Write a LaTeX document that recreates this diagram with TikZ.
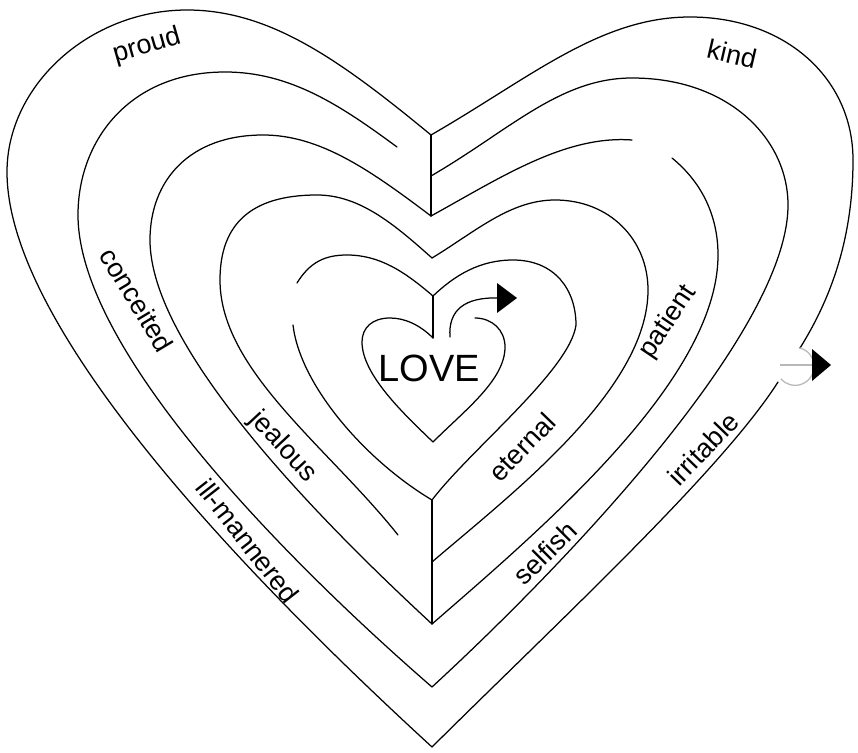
\documentclass[tikz,border=0pt]{standalone}
\usepackage{fontspec}
\setmainfont{Liberation Sans}
\begin{document}
\begin{tikzpicture}[x=1pt,y=-1pt,
  wall/.style={line width=1.25pt, line cap=round, line join=round},
  lbl/.style={font=\fontsize{27}{27}\selectfont, inner sep=0pt},
  tipfill/.style={fill=black},
  ghost/.style={draw=black!28, line width=1.3pt}]
\useasboundingbox (0,0) rectangle (858,752);
% junctions
\coordinate (c1) at (431,135);
\coordinate (c2) at (431,176);
\coordinate (c3) at (431,216);
\coordinate (c4) at (432,258);
\coordinate (c5) at (433,296);
\coordinate (c6) at (433,338);
\coordinate (b6) at (433,442);
\coordinate (b5) at (432,500);
\coordinate (b4) at (432,562);
\coordinate (b3) at (432,624);
\coordinate (b2) at (432,687);
\coordinate (b1) at (432,747);
% ring 1
\draw[wall] (c1) .. controls (340,60) and (270,10) .. (187,10)
  .. controls (90,10) and (7,85) .. (7,172)
  .. controls (7,330) and (250,580) .. (b1);
\coordinate (g1) at (800,348);
\coordinate (g2) at (778,382);
\draw[wall] (c1) .. controls (530,78) and (600,17) .. (690,17)
  .. controls (785,17) and (853,78) .. (853,160)
  .. controls (853,240) and (830,300) .. (g1);
\draw[wall] (g2) .. controls (722,470) and (560,620) .. (b1);
% ring 2
\draw[wall] (397,147) .. controls (340,105) and (290,72) .. (225,72)
  .. controls (130,72) and (78,140) .. (78,215)
  .. controls (78,348) and (280,555) .. (b2);
\draw[wall] (c2) .. controls (510,130) and (560,78) .. (632,78)
  .. controls (730,78) and (788,140) .. (788,205)
  .. controls (788,330) and (570,560) .. (b2);
% ring 3
\draw[wall] (c3) .. controls (370,170) and (320,135) .. (263,135)
  .. controls (190,135) and (150,180) .. (150,240)
  .. controls (150,346) and (312,513) .. (b3);
\draw[wall] (c3) .. controls (500,178) and (565,135) .. (632,140);
\draw[wall] (672,158) .. controls (705,185) and (718,220) .. (718,255)
  .. controls (718,380) and (540,530) .. (b3);
% ring 4
\draw[wall] (c4) .. controls (395,225) and (360,195) .. (317,195)
  .. controls (250,195) and (220,225) .. (220,280)
  .. controls (220,370) and (328,447) .. (398,535);
\draw[wall] (c4) .. controls (475,232) and (510,200) .. (555,200)
  .. controls (610,200) and (648,240) .. (648,290)
  .. controls (648,390) and (510,495) .. (b4);
% ring 5
\draw[wall] (297,283) .. controls (310,262) and (325,255) .. (347,255)
  .. controls (380,255) and (405,272) .. (c5);
\draw[wall] (293,325) .. controls (300,385) and (365,460) .. (b5);
\draw[wall] (c5) .. controls (455,275) and (480,260) .. (513,260)
  .. controls (555,260) and (576,290) .. (576,325)
  .. controls (570,370) and (470,450) .. (b5);
% inner heart
\draw[wall] (c6) .. controls (420,325) and (405,318) .. (390,318)
  .. controls (372,318) and (362,328) .. (362,342)
  .. controls (362,375) and (405,415) .. (b6);
\draw[wall] (b6) .. controls (465,410) and (505,380) .. (505,347)
  .. controls (505,330) and (492,318) .. (475,318);
% vertical spines
\draw[wall] (c1) -- (c3);
\draw[wall] (c5) -- (c6);
\draw[wall] (b5) -- (b3);
% inner arrow
\coordinate (a0) at (450,337);
\coordinate (a1) at (498,298);
\draw[wall] (a0) .. controls (448,310) and (465,297) .. (a1);
\fill[tipfill] (497,283) -- (497,313) -- (517,298) -- cycle;
% exit arrow
\draw[ghost] (g1) arc[start angle=-75, end angle=139, radius=19];
\coordinate (e0) at (780,365);
\coordinate (e1) at (812,365);
\draw[ghost] (e0) -- (e1);
\fill[tipfill] (812,349) -- (812,381) -- (831,365) -- cycle;
% labels
\node[lbl, rotate=16] (proud) at (147,46) {proud};
\node[lbl, rotate=-13] (kind) at (732,54) {kind};
\node[lbl, rotate=-59] (conceited) at (137,300) {conceited};
\node[lbl, rotate=-47] (jealous) at (283,447) {jealous};
\node[lbl, rotate=-52] (illmannered) at (248,541) {ill-mannered};
\node[lbl, rotate=46] (eternal) at (522,447) {eternal};
\node[lbl, rotate=56] (patient) at (668,322) {patient};
\node[lbl, rotate=45] (selfish) at (545,553) {selfish};
\node[lbl, rotate=46] (irritable) at (703,449) {irritable};
\node[font=\fontsize{38}{38}\selectfont, inner sep=0pt] (love) at (429,368) {LOVE};
\end{tikzpicture}
\end{document}
